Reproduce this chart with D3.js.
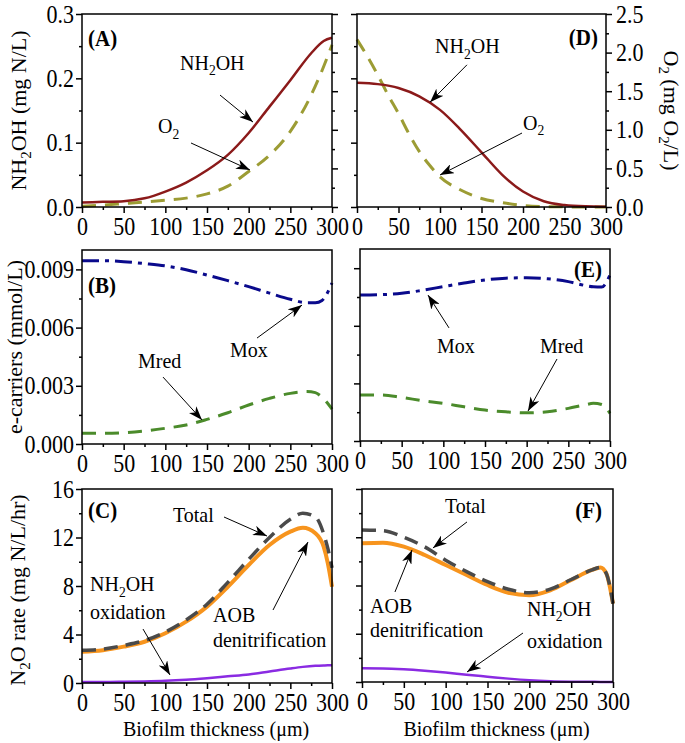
<!DOCTYPE html>
<html><head><meta charset="utf-8">
<script src="https://cdn.jsdelivr.net/npm/d3@7"></script>
<style>body{margin:0;background:#fff;} svg{display:block;}</style>
</head><body><svg id="c" width="685" height="743"></svg>
<script>
// ---------------- DATA ----------------
const xMajor = [0, 50, 100, 150, 200, 250, 300];
const xMinor = [25, 75, 125, 175, 225, 275];

// Panel A NH2OH (mg N/L) and O2 (mg O2/L)
const thickA = [0, 25, 50, 75, 100, 125, 150, 175, 200, 225, 250, 275, 290, 300];
const nh2ohA = [0.007, 0.008, 0.009, 0.0135, 0.024, 0.038, 0.057, 0.081, 0.115, 0.156, 0.197, 0.239, 0.258, 0.263];
const o2A    = [0.01, 0.025, 0.045, 0.065, 0.087, 0.115, 0.17, 0.27, 0.46, 0.67, 0.98, 1.45, 1.82, 2.1];

// Panel D
const thickDo2 = [0, 12.5, 25, 37.5, 50, 62.5, 75, 87.5, 100, 125, 150, 175, 200, 225, 250, 275, 300];
const o2D      = [2.17, 1.95, 1.71, 1.45, 1.21, 0.95, 0.72, 0.54, 0.39, 0.22, 0.11, 0.056, 0.02, 0.006, 0.002, 0.001, 0];
const thickDn  = [0, 25, 50, 75, 100, 125, 150, 175, 200, 225, 250, 275, 300];
const nh2ohD   = [0.193, 0.191, 0.185, 0.172, 0.151, 0.120, 0.085, 0.050, 0.024, 0.009, 0.003, 0.001, 0.0005];

// Panel B e-carriers (mmol/L)
const thickBox = [0, 25, 50, 75, 100, 125, 150, 175, 200, 225, 250, 270, 280, 288, 300];
const moxB     = [0.00945, 0.00945, 0.0094, 0.0093, 0.00918, 0.00898, 0.00871, 0.00842, 0.00811, 0.00778, 0.00746, 0.00728, 0.00728, 0.0074, 0.0083];
const thickBred = [0, 25, 50, 75, 100, 125, 150, 175, 200, 225, 250, 270, 280, 287, 300];
const mredB     = [0.00055, 0.00055, 0.00058, 0.00067, 0.00081, 0.00098, 0.00127, 0.00161, 0.00201, 0.00235, 0.00261, 0.0027, 0.00265, 0.00245, 0.0018];

// Panel E
const thickE = [0, 25, 50, 75, 100, 125, 150, 175, 200, 225, 250, 270, 280, 290, 300];
const moxE   = [0.0076, 0.00762, 0.00769, 0.00785, 0.00804, 0.00823, 0.00839, 0.00848, 0.0085, 0.00845, 0.0083, 0.0081, 0.00803, 0.00802, 0.00865];
const mredE  = [0.0024, 0.0024, 0.00227, 0.0021, 0.00196, 0.00178, 0.00161, 0.00152, 0.00147, 0.00152, 0.0017, 0.00188, 0.00196, 0.0019, 0.00144];

// Panel C N2O rate (mg N/L/hr)
const thickC = [0, 25, 50, 75, 100, 125, 150, 175, 200, 225, 250, 265, 280, 290, 295, 300];
const aobC   = [2.58, 2.7, 3.0, 3.4, 4.1, 5.06, 6.3, 7.94, 9.73, 11.38, 12.48, 12.8, 12.35, 11.24, 9.87, 7.94];
const totalC = [2.7, 2.8, 3.1, 3.5, 4.2, 5.2, 6.5, 8.3, 10.2, 12.0, 13.5, 14.0, 13.7, 12.3, 11.1, 9.5];
const nh2oxC = [0.08, 0.08, 0.1, 0.13, 0.18, 0.27, 0.4, 0.55, 0.7, 0.95, 1.2, 1.33, 1.42, 1.45, 1.46, 1.46];

// Panel F
const thickF = [0, 25, 50, 75, 100, 125, 150, 175, 200, 225, 250, 275, 285, 292, 300];
const aobF   = [11.5, 11.55, 11.22, 10.53, 9.70, 8.87, 8.04, 7.4, 7.2, 7.6, 8.46, 9.29, 9.5, 9.0, 6.5];
const totalF = [12.6, 12.55, 12.0, 11.2, 10.1, 9.15, 8.32, 7.69, 7.4, 7.7, 8.5, 9.3, 9.5, 9.0, 6.5];
const nh2oxF = [1.13, 1.12, 1.05, 0.93, 0.78, 0.6, 0.44, 0.28, 0.15, 0.07, 0.03, 0.015, 0.01, 0.01, 0.01];

// ---------------- DRAWING ----------------
const SY = 1.1;
const FONT = '"Liberation Serif","Times New Roman",Times,serif';
const svg = d3.select('#c');
const defs = svg.append('defs');
defs.append('marker').attr('id', 'ah').attr('viewBox', '0 0 14 10')
  .attr('refX', 14).attr('refY', 5).attr('markerWidth', 14).attr('markerHeight', 10)
  .attr('markerUnits', 'userSpaceOnUse').attr('orient', 'auto')
  .append('path').attr('d', 'M0,0 L14,5 L0,10 L4,5 Z').attr('fill', '#000');

const boxes = {
  A: {x0: 82, x1: 332, y0: 14, y1: 207},
  D: {x0: 357, x1: 606, y0: 14, y1: 207},
  B: {x0: 82, x1: 332, y0: 250, y1: 444},
  E: {x0: 360, x1: 610, y0: 249, y1: 441},
  C: {x0: 82, x1: 332, y0: 489, y1: 683},
  F: {x0: 362, x1: 613, y0: 489, y1: 682}
};

function scalesFor(b, yDom) {
  return {
    x: d3.scaleLinear().domain([0, 300]).range([b.x0, b.x1]),
    y: d3.scaleLinear().domain(yDom).range([b.y1, b.y0])
  };
}

function styleAxis(g, kind, size) {
  g.select('.domain').remove();
  g.selectAll('line').attr('stroke', '#000').attr('stroke-width', 1.5);
  const t = g.selectAll('text').attr('font-family', FONT).attr('font-size', size || 22).attr('fill', '#000')
    .attr('transform', `scale(1,${SY})`).attr('dy', null);
  if (kind === 'bottom') t.attr('y', 28 / SY);
  if (kind === 'left') t.attr('x', -8).attr('y', 8 / SY).attr('text-anchor', 'end');
  if (kind === 'right') t.attr('x', 10).attr('y', 8 / SY).attr('text-anchor', 'start');
}

function xAxes(b, x, labels) {
  const g1 = svg.append('g').attr('transform', `translate(0,${b.y1})`)
    .call(d3.axisBottom(x).tickValues(xMajor).tickSize(6).tickFormat(labels ? d3.format('d') : ''));
  styleAxis(g1, 'bottom');
  const g2 = svg.append('g').attr('transform', `translate(0,${b.y1})`)
    .call(d3.axisBottom(x).tickValues(xMinor).tickSize(3).tickFormat(''));
  styleAxis(g2, 'bottom');
}
function yAxes(b, y, side, major, minor, fmt) {
  const tx = side === 'left' ? b.x0 : b.x1;
  const gen = side === 'left' ? d3.axisLeft : d3.axisRight;
  const g1 = svg.append('g').attr('transform', `translate(${tx},0)`)
    .call(gen(y).tickValues(major).tickSize(6).tickFormat(fmt ? d3.format(fmt) : ''));
  styleAxis(g1, side);
  const g2 = svg.append('g').attr('transform', `translate(${tx},0)`)
    .call(gen(y).tickValues(minor).tickSize(3).tickFormat(''));
  styleAxis(g2, side);
}
function frame(b) {
  svg.append('rect').attr('x', b.x0).attr('y', b.y0).attr('width', b.x1 - b.x0).attr('height', b.y1 - b.y0)
    .attr('fill', 'none').attr('stroke', '#000').attr('stroke-width', 1.5);
}
function line(s, xs, ys, yScale, color, width, dash) {
  const gen = d3.line().x((d, i) => s.x(xs[i])).y(d => yScale(d)).curve(d3.curveMonotoneX);
  svg.append('path').attr('d', gen(ys)).attr('fill', 'none').attr('stroke', color)
    .attr('stroke-width', width).attr('stroke-dasharray', dash || null)
    .attr('stroke-linejoin', 'round').attr('stroke-linecap', 'butt');
}
// text with parts: array of strings or [str] for subscript
function label(x, y, parts, o) {
  o = o || {};
  const size = o.size || 20;
  const t = svg.append('text')
    .attr('transform', `translate(${x},${y}) scale(1,${SY}) rotate(${o.rotate || 0})`)
    .attr('font-family', FONT).attr('font-size', size).attr('fill', '#000')
    .attr('font-weight', o.weight || 'normal').attr('text-anchor', o.anchor || 'start');
  let inSub = false;
  parts.forEach(p => {
    const sub = typeof p !== 'string';
    const str = sub ? p[0] : p;
    const ts = t.append('tspan').text(str);
    if (sub) ts.attr('font-size', size * 0.68);
    if (sub && !inSub) ts.attr('dy', size * 0.25);
    if (!sub && inSub) ts.attr('dy', -size * 0.25);
    inSub = sub;
  });
  return t;
}
function arrow(s, yScale, x1, y1, x2, y2) {
  svg.append('line').attr('x1', s.x(x1)).attr('y1', yScale(y1)).attr('x2', s.x(x2)).attr('y2', yScale(y2))
    .attr('stroke', '#000').attr('stroke-width', 1).attr('marker-end', 'url(#ah)');
}

const C_NH = '#8b1a1a', C_O2 = '#9c9c34', C_MOX = '#0a0a8c', C_MRED = '#4b8b2b',
      C_AOB = '#f7941d', C_TOT = '#4a4a4a', C_PUR = '#8a2be2';

// ---- Panel A ----
{
  const b = boxes.A, s = scalesFor(b, [0, 0.3]);
  const yR = d3.scaleLinear().domain([0, 2.5]).range([b.y1, b.y0]);
  line(s, thickA, o2A, yR, C_O2, 3, '14,9');
  line(s, thickA, nh2ohA, s.y, C_NH, 2.5);
  frame(b);
  xAxes(b, s.x, true);
  yAxes(b, s.y, 'left', [0, 0.1, 0.2, 0.3], [0.05, 0.15, 0.25], '.1f');
  yAxes(b, yR, 'right', [0, 0.5, 1, 1.5, 2, 2.5], [0.25, 0.75, 1.25, 1.75, 2.25], null);
  label(b.x0 + 6, b.y0 + 32, ['(A)'], {weight: 'bold', size: 21});
  label(s.x(117.6), s.y(0.213), ['NH', ['2'], 'OH']);
  arrow(s, s.y, 165.6, 0.174, 205.2, 0.132);
  label(s.x(91.2), s.y(0.115), ['O', ['2']]);
  arrow(s, s.y, 130.8, 0.0995, 201.6, 0.0575);
  label(26, (b.y0 + b.y1) / 2, ['NH', ['2'], 'OH (mg N/L)'], {rotate: -90, anchor: 'middle'});
}
// ---- Panel D ----
{
  const b = boxes.D, s = scalesFor(b, [0, 0.3]);
  const yR = d3.scaleLinear().domain([0, 2.5]).range([b.y1, b.y0]);
  line(s, thickDo2, o2D, yR, C_O2, 3, '14,9');
  line(s, thickDn, nh2ohD, s.y, C_NH, 2.5);
  frame(b);
  xAxes(b, s.x, true);
  yAxes(b, s.y, 'left', [0, 0.1, 0.2, 0.3], [0.05, 0.15, 0.25], null);
  yAxes(b, yR, 'right', [0, 0.5, 1, 1.5, 2, 2.5], [0.25, 0.75, 1.25, 1.75, 2.25], '.1f');
  label(b.x1 - 8, b.y0 + 31, ['(D)'], {weight: 'bold', size: 21, anchor: 'end'});
  label(s.x(94), s.y(0.239), ['NH', ['2'], 'OH']);
  arrow(s, s.y, 132.5, 0.221, 88, 0.163);
  label(s.x(200), s.y(0.12), ['O', ['2']]);
  arrow(s, s.y, 198.8, 0.115, 100, 0.0497);
  label(664, (b.y0 + b.y1) / 2, ['O', ['2'], ' (mg O', ['2'], '/L)'], {rotate: 90, anchor: 'middle'});
}
// ---- Panel B ----
{
  const b = boxes.B, s = scalesFor(b, [0, 0.01]);
  line(s, thickBred, mredB, s.y, C_MRED, 3, '14,9');
  line(s, thickBox, moxB, s.y, C_MOX, 3, '17,6,4,6');
  frame(b);
  xAxes(b, s.x, true);
  yAxes(b, s.y, 'left', [0, 0.003, 0.006, 0.009], [0.0015, 0.0045, 0.0075], '.3f');
  label(b.x0 + 6, b.y0 + 43, ['(B)'], {weight: 'bold', size: 21});
  label(s.x(67.2), s.y(0.00392), ['Mred']);
  arrow(s, s.y, 97.2, 0.00345, 144, 0.00124);
  label(s.x(177.6), s.y(0.00448), ['Mox']);
  arrow(s, s.y, 210, 0.00546, 264, 0.00716);
  label(22, (b.y0 + b.y1) / 2, ['e-carriers (mmol/L)'], {rotate: -90, anchor: 'middle'});
}
// ---- Panel E ----
{
  const b = boxes.E, s = scalesFor(b, [0, 0.01]);
  line(s, thickE, mredE, s.y, C_MRED, 3, '14,9');
  line(s, thickE, moxE, s.y, C_MOX, 3, '17,6,4,6');
  frame(b);
  xAxes(b, s.x, true);
  yAxes(b, s.y, 'left', [0, 0.003, 0.006, 0.009], [0.0015, 0.0045, 0.0075], null);
  label(b.x1 - 8, b.y0 + 28, ['(E)'], {weight: 'bold', size: 21, anchor: 'end'});
  label(s.x(92.4), s.y(0.00458), ['Mox']);
  arrow(s, s.y, 106.8, 0.00589, 81.6, 0.0076);
  label(s.x(216), s.y(0.00458), ['Mred']);
  arrow(s, s.y, 236.4, 0.00427, 201.6, 0.00156);
}
// ---- Panel C ----
{
  const b = boxes.C, s = scalesFor(b, [0, 16]);
  line(s, thickC, nh2oxC, s.y, C_PUR, 2.5);
  line(s, thickC, aobC, s.y, C_AOB, 4);
  line(s, thickC, totalC, s.y, C_TOT, 3.5, '14,8');
  frame(b);
  xAxes(b, s.x, true);
  yAxes(b, s.y, 'left', [0, 4, 8, 12, 16], [2, 6, 10, 14], 'd');
  label(b.x0 + 6, b.y0 + 29, ['(C)'], {weight: 'bold', size: 21});
  label(s.x(109.2), s.y(13.28), ['Total']);
  arrow(s, s.y, 170.4, 13.69, 222, 12.12);
  label(s.x(9.6), s.y(7.55), ['NH', ['2'], 'OH']);
  label(s.x(9.6), s.y(5.3), ['oxidation']);
  arrow(s, s.y, 73.2, 4.45, 105.6, 0.66);
  label(s.x(157.2), s.y(5.03), ['AOB']);
  label(s.x(157.2), s.y(2.97), ['denitrification']);
  arrow(s, s.y, 229.2, 6.02, 271.2, 11.63);
  label(25, (b.y0 + b.y1) / 2 + 4, ['N', ['2'], 'O rate (mg N/L/hr)'], {rotate: -90, anchor: 'middle'});
  label((b.x0 + b.x1) / 2 + 9, 736, ['Biofilm thickness (\u03bcm)'], {anchor: 'middle'});
}
// ---- Panel F ----
{
  const b = boxes.F, s = scalesFor(b, [0, 16]);
  line(s, thickF, nh2oxF, s.y, C_PUR, 2.5);
  line(s, thickF, aobF, s.y, C_AOB, 4);
  line(s, thickF, totalF, s.y, C_TOT, 3.5, '14,8');
  frame(b);
  xAxes(b, s.x, true);
  yAxes(b, s.y, 'left', [0, 4, 8, 12, 16], [2, 6, 10, 14], null);
  label(b.x1 - 11, b.y0 + 29, ['(F)'], {weight: 'bold', size: 21, anchor: 'end'});
  label(s.x(99.2), s.y(14.01), ['Total']);
  arrow(s, s.y, 125.5, 13.27, 84.8, 11.11);
  label(s.x(9.6), s.y(5.72), ['AOB']);
  label(s.x(9.6), s.y(3.73), ['denitrification']);
  arrow(s, s.y, 39.4, 7.46, 59.8, 10.95);
  label(s.x(197.2), s.y(5.5), ['NH', ['2'], 'OH']);
  label(s.x(197.2), s.y(2.85), ['oxidation']);
  arrow(s, s.y, 192.4, 4.06, 125.5, 0.83);
  label((b.x0 + b.x1) / 2 + 9, 736, ['Biofilm thickness (\u03bcm)'], {anchor: 'middle'});
}
</script>
</body></html>
